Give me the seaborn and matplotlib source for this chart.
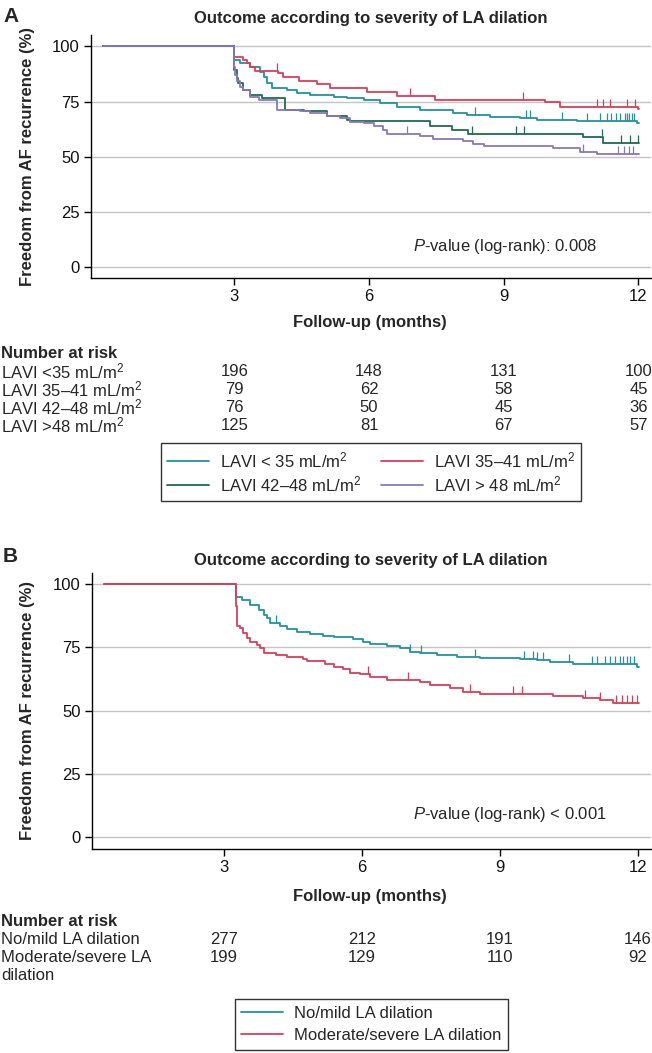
import numpy as np
import pandas as pd
import matplotlib
matplotlib.use("Agg")
import matplotlib.pyplot as plt
from matplotlib import transforms
from matplotlib.lines import Line2D
import seaborn as sns

# ---------------- data ----------------
# Panel A: Kaplan-Meier steps (months, % free from AF recurrence)
a_groups = ["LAVI <35", "LAVI 35-41", "LAVI 42-48", "LAVI >48"]
a_start = 0.07
a_end = 12.02

a_lt35_t = [3.0, 3.13, 3.35, 3.57, 3.65, 3.72, 3.83, 4.17, 4.39, 4.69, 5.21, 5.50, 5.88,
            6.25, 6.62, 7.14, 7.88, 8.18, 8.70, 9.36, 9.73, 10.63, 11.96]
a_lt35_s = [93.8, 92.3, 90.7, 88.5, 86.3, 83.2, 81.0, 80.2, 78.7, 78.0, 77.2, 76.5, 75.7,
            74.2, 72.7, 71.2, 70.0, 69.0, 67.9, 67.4, 66.7, 66.4, 65.2]

a_3541_t = [3.0, 3.20, 3.28, 3.35, 3.46, 3.98, 4.09, 4.43, 4.84, 5.13, 5.95, 6.62, 7.47,
            9.92, 10.25, 12.0]
a_3541_s = [95.3, 93.8, 92.3, 90.7, 89.0, 87.8, 86.3, 84.5, 83.0, 81.0, 79.2, 77.5, 75.7,
            74.9, 72.7, 71.6]

a_4248_t = [3.0, 3.05, 3.09, 3.20, 3.35, 3.61, 4.13, 4.54, 5.06, 5.50, 5.58, 7.36, 7.84,
            8.21, 10.77, 11.22]
a_4248_s = [89.3, 85.5, 83.2, 80.2, 78.0, 76.5, 71.2, 70.5, 68.5, 66.7, 66.0, 63.7, 62.2,
            60.3, 58.8, 56.4]

a_gt48_t = [3.0, 3.02, 3.05, 3.13, 3.20, 3.35, 3.54, 3.94, 4.46, 4.69, 5.06, 5.36, 5.58,
            5.88, 6.10, 6.32, 6.40, 7.14, 7.43, 8.10, 8.32, 8.55, 10.10, 10.70, 11.07]
a_gt48_s = [90.7, 87.0, 84.2, 81.5, 80.2, 77.2, 75.7, 71.2, 70.7, 69.7, 68.5, 67.4, 65.9,
            65.2, 63.7, 62.2, 60.3, 59.4, 58.0, 57.1, 56.0, 55.0, 53.8, 52.3, 51.4]

a_lt35_cens = [8.37, 9.50, 9.58, 10.30, 10.85, 11.15, 11.30, 11.40, 11.50, 11.60, 11.70,
               11.75, 11.80, 11.85, 11.90]
a_3541_cens = [3.94, 6.91, 9.44, 11.07, 11.22, 11.37, 11.74, 11.92]
a_4248_cens = [8.29, 9.27, 9.46, 11.18, 11.62, 11.81, 11.99]
a_gt48_cens = [6.84, 10.77, 11.55, 11.67, 11.78, 11.89]

a_risk_labels = ["LAVI <35 mL/m$^2$", "LAVI 35–41 mL/m$^2$", "LAVI 42–48 mL/m$^2$", "LAVI >48 mL/m$^2$"]
a_risk_lt35 = [196, 148, 131, 100]
a_risk_3541 = [79, 62, 58, 45]
a_risk_4248 = [76, 50, 45, 36]
a_risk_gt48 = [125, 81, 67, 57]
a_legend_labels = ["LAVI < 35 mL/m$^2$", "LAVI 35–41 mL/m$^2$", "LAVI 42–48 mL/m$^2$", "LAVI > 48 mL/m$^2$"]

# Panel B
b_groups = ["No/mild", "Moderate/severe"]
b_start = 0.40
b_end = 12.02

b_mild_t = [3.25, 3.38, 3.57, 3.75, 3.86, 3.93, 4.00, 4.22, 4.36, 4.58, 4.87, 5.16, 5.38,
            5.81, 6.03, 6.17, 6.54, 6.83, 7.04, 7.26, 7.62, 8.06, 8.56, 9.43, 9.80, 10.09,
            10.59, 11.97]
b_mild_s = [94.7, 93.7, 91.7, 89.7, 87.8, 86.5, 84.5, 83.5, 82.1, 81.2, 80.3, 79.6, 79.0,
            78.3, 77.2, 76.3, 75.5, 74.6, 73.3, 72.6, 72.0, 71.3, 70.7, 70.3, 69.8, 69.2,
            68.4, 67.4]

b_mod_t = [3.25, 3.29, 3.35, 3.42, 3.49, 3.57, 3.71, 3.78, 3.86, 4.14, 4.36, 4.72, 4.80,
           5.20, 5.38, 5.59, 5.74, 5.96, 6.17, 6.54, 7.26, 7.48, 7.91, 8.20, 8.56, 10.16,
           10.81, 11.17, 11.46]
b_mod_s = [91.1, 83.2, 82.5, 80.5, 78.6, 77.2, 75.9, 74.6, 72.9, 72.0, 71.1, 70.3, 69.4,
           68.4, 67.4, 66.3, 65.0, 64.4, 63.4, 62.1, 61.1, 60.1, 58.8, 57.5, 56.6, 55.8,
           54.9, 54.0, 52.9]

b_mild_cens = [4.13, 7.04, 7.29, 8.45, 9.52, 9.72, 9.80, 9.94, 10.49, 10.99, 11.10, 11.28,
               11.39, 11.50, 11.61, 11.68, 11.75, 11.83, 11.90]
b_mod_cens = [6.14, 7.00, 8.35, 9.29, 9.47, 10.85, 11.17, 11.53, 11.64, 11.75, 11.86, 11.97]

b_risk_labels = ["No/mild LA dilation", "Moderate/severe LA\ndilation"]
b_risk_mild = [277, 212, 191, 146]
b_risk_mod = [199, 129, 110, 92]
b_legend_labels = ["No/mild LA dilation", "Moderate/severe LA dilation"]

x_ticks = [3, 6, 9, 12]
y_ticks = [0, 25, 50, 75, 100]

# ---------------- style ----------------
TEAL = "#23929b"
RED = "#d63f5c"
GREEN = "#1f6b50"
PURPLE = "#8878b6"

FS = 12  # regular text size

sns.set_theme(style="white")
plt.rcParams["font.family"] = ["Liberation Sans", "DejaVu Sans"]
plt.rcParams["mathtext.fontset"] = "custom"
plt.rcParams["mathtext.rm"] = "Liberation Sans"
plt.rcParams["mathtext.it"] = "Liberation Sans:italic"
plt.rcParams["mathtext.bf"] = "Liberation Sans:bold"

BOLD_FAM = ["Liberation Sans", "DejaVu Sans"]

W, H = 652, 1053
fig = plt.figure(figsize=(W / 100, H / 100), dpi=100)


def fx(px):
    return px / W


def fy(py):
    return 1 - py / H


def km_frame(names, start, ts, ss, end):
    rows = []
    for name, t, s in zip(names, ts, ss):
        tt = [start] + list(t) + [end]
        yy = [100.0] + list(s) + [s[-1]]
        rows.append(pd.DataFrame({"t": tt, "s": yy, "group": name}))
    return pd.concat(rows, ignore_index=True)


def step_value(t_list, s_list, when):
    t = np.asarray(t_list)
    s = np.asarray(s_list)
    idx = np.searchsorted(t, when, side="right") - 1
    return np.where(idx >= 0, s[np.clip(idx, 0, None)], 100.0)


def style_axes(ax, xlim, ylim):
    ax.set_xlim(*xlim)
    ax.set_ylim(*ylim)
    ax.set_xticks(x_ticks)
    ax.set_yticks(y_ticks)
    ax.set_xticklabels([str(v) for v in x_ticks], fontsize=FS)
    ax.set_yticklabels([str(v) for v in y_ticks], fontsize=FS)
    ax.grid(axis="y", color="#c4c4c4", lw=1.0)
    ax.grid(axis="x", visible=False)
    ax.set_axisbelow(True)
    for side in ["top", "right"]:
        ax.spines[side].set_visible(False)
    for side in ["left", "bottom"]:
        ax.spines[side].set_color("black")
        ax.spines[side].set_linewidth(1.0)
    ax.tick_params(axis="both", direction="out", length=5, width=1.0, color="black",
                   left=True, bottom=True, pad=3, labelcolor="#111111")
    ax.set_xlabel("")
    ax.set_ylabel("")


def risk_row(trans, label, values, py):
    lines = label.split("\n")
    for k, line in enumerate(lines):
        fig.text(fx(1), fy(py + 18 * k), line, fontsize=FS, ha="left", va="center")
    for xv, n in zip(x_ticks, values):
        fig.text(xv, fy(py), str(n), fontsize=FS, ha="center", va="center", transform=trans)


# ---------------- Panel A ----------------
axA = fig.add_axes([fx(90.7), fy(278.3), fx(651) - fx(90.7), fy(35) - fy(278.3)])
dfA = km_frame(a_groups, a_start,
               [a_lt35_t, a_3541_t, a_4248_t, a_gt48_t],
               [a_lt35_s, a_3541_s, a_4248_s, a_gt48_s], a_end)
palA = dict(zip(a_groups, [TEAL, RED, GREEN, PURPLE]))
sns.lineplot(data=dfA, x="t", y="s", hue="group", hue_order=a_groups, palette=palA,
             estimator=None, sort=False, drawstyle="steps-post", lw=1.3, legend=False, ax=axA)
for name, t, s, c in zip(a_groups, [a_lt35_t, a_3541_t, a_4248_t, a_gt48_t],
                         [a_lt35_s, a_3541_s, a_4248_s, a_gt48_s],
                         [a_lt35_cens, a_3541_cens, a_4248_cens, a_gt48_cens]):
    axA.plot(c, step_value(t, s, c), linestyle="none", marker=2, markersize=6,
             markeredgewidth=0.9, color=palA[name])
style_axes(axA, (-0.2, 12.28), (-5.0, 105.1))

fig.text(fx(3), fy(17), "A", fontsize=15, fontweight="bold", ha="left", va="center",
         family=BOLD_FAM)
fig.text(fx(371), fy(18), "Outcome according to severity of LA dilation", fontsize=12,
         fontweight="bold", ha="center", va="center", family=BOLD_FAM)
fig.text(fx(28), fy(156.5), "Freedom from AF recurrence (%)", fontsize=12, fontweight="bold",
         rotation=90, ha="center", va="center", family=BOLD_FAM)
fig.text(fx(370), fy(323), "Follow-up (months)", fontsize=12, fontweight="bold",
         ha="center", va="center", family=BOLD_FAM)
fig.text(fx(413), fy(246), r"$\it{P}$-value (log-rank): 0.008", fontsize=FS,
         ha="left", va="center")

trA = transforms.blended_transform_factory(axA.transData, fig.transFigure)
fig.text(fx(1), fy(353), "Number at risk", fontsize=12, fontweight="bold", ha="left",
         va="center", family=BOLD_FAM)
for lab, vals, py in zip(a_risk_labels, [a_risk_lt35, a_risk_3541, a_risk_4248, a_risk_gt48],
                         [371, 389, 407, 425]):
    risk_row(trA, lab, vals, py)

handlesA = [Line2D([], [], color=c, lw=1.3) for c in [TEAL, GREEN, RED, PURPLE]]
labelsA = [a_legend_labels[0], a_legend_labels[2], a_legend_labels[1], a_legend_labels[3]]
legA = fig.legend(handlesA, labelsA, loc="center", bbox_to_anchor=(fx(371), fy(472)),
                  ncol=2, fontsize=FS, frameon=True, fancybox=False, shadow=False,
                  handlelength=2.5, handletextpad=0.65, columnspacing=1.2,
                  labelspacing=0.25, borderpad=0.4)
legA.get_frame().set_edgecolor("black")
legA.get_frame().set_linewidth(1.0)

# ---------------- Panel B ----------------
axB = fig.add_axes([fx(91.7), fy(848.7), fx(651) - fx(91.7), fy(573) - fy(848.7)])
dfB = km_frame(b_groups, b_start, [b_mild_t, b_mod_t], [b_mild_s, b_mod_s], b_end)
palB = dict(zip(b_groups, [TEAL, RED]))
sns.lineplot(data=dfB, x="t", y="s", hue="group", hue_order=b_groups, palette=palB,
             estimator=None, sort=False, drawstyle="steps-post", lw=1.3, legend=False, ax=axB)
for name, t, s, c in zip(b_groups, [b_mild_t, b_mod_t], [b_mild_s, b_mod_s],
                         [b_mild_cens, b_mod_cens]):
    axB.plot(c, step_value(t, s, c), linestyle="none", marker=2, markersize=6,
             markeredgewidth=0.9, color=palB[name])
style_axes(axB, (0.124, 12.28), (-4.5, 104.3))

fig.text(fx(3), fy(557), "B", fontsize=15, fontweight="bold", ha="left", va="center",
         family=BOLD_FAM)
fig.text(fx(371), fy(560), "Outcome according to severity of LA dilation", fontsize=12,
         fontweight="bold", ha="center", va="center", family=BOLD_FAM)
fig.text(fx(28), fy(711), "Freedom from AF recurrence (%)", fontsize=12, fontweight="bold",
         rotation=90, ha="center", va="center", family=BOLD_FAM)
fig.text(fx(370), fy(896), "Follow-up (months)", fontsize=12, fontweight="bold",
         ha="center", va="center", family=BOLD_FAM)
fig.text(fx(413), fy(814), r"$\it{P}$-value (log-rank) < 0.001", fontsize=FS,
         ha="left", va="center")

trB = transforms.blended_transform_factory(axB.transData, fig.transFigure)
fig.text(fx(1), fy(921), "Number at risk", fontsize=12, fontweight="bold", ha="left",
         va="center", family=BOLD_FAM)
for lab, vals, py in zip(b_risk_labels, [b_risk_mild, b_risk_mod], [940, 958]):
    risk_row(trB, lab, vals, py)

handlesB = [Line2D([], [], color=c, lw=1.3) for c in [TEAL, RED]]
legB = fig.legend(handlesB, b_legend_labels, loc="center", bbox_to_anchor=(fx(371.4), fy(1024.5)),
                  ncol=1, fontsize=FS, frameon=True, fancybox=False, shadow=False,
                  handlelength=2.5, handletextpad=0.65, labelspacing=0.45, borderpad=0.4)
legB.get_frame().set_edgecolor("black")
legB.get_frame().set_linewidth(1.0)

fig.savefig("out.png", dpi=100)
